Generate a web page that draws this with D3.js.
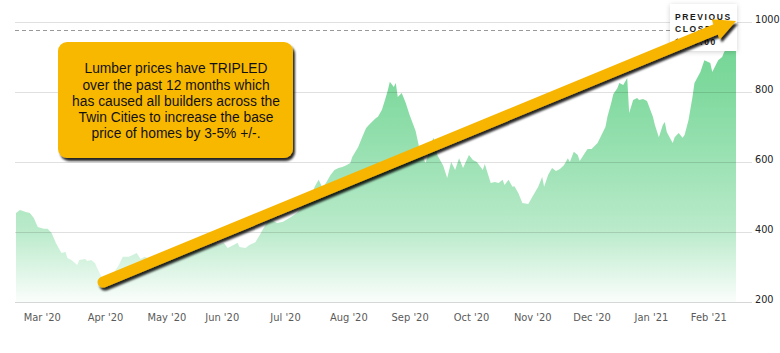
<!DOCTYPE html>
<html lang="en">
<head>
  <meta charset="UTF-8">
  <title>Lumber prices</title>
  <script src="https://d3js.org/d3.v7.min.js"></script>
  <style>
    body {
      margin: 0;
      background: #fff;
    }
    svg {
      display: block;
    }
    .axis text {
      font-family: "DejaVu Sans Condensed", "Liberation Sans Narrow", sans-serif;
    }
  </style>
</head>
<body>
<script>
  // lumber futures
  const dates = [
    "2020-02-18","2020-02-20","2020-02-23","2020-02-25","2020-02-27","2020-02-29","2020-03-03","2020-03-05",
    "2020-03-07","2020-03-09","2020-03-10","2020-03-12","2020-03-14","2020-03-15","2020-03-17","2020-03-20",
    "2020-03-21","2020-03-24","2020-03-25","2020-03-27","2020-03-29","2020-03-30","2020-04-01","2020-04-03",
    "2020-04-05","2020-04-07","2020-04-10","2020-04-12","2020-04-15","2020-04-17","2020-04-19","2020-04-21",
    "2020-04-23","2020-04-26","2020-04-28","2020-05-01","2020-05-03","2020-05-06","2020-05-08","2020-05-11",
    "2020-05-13","2020-05-16","2020-05-18","2020-05-21","2020-05-24","2020-05-26","2020-05-28","2020-05-30",
    "2020-06-02","2020-06-04","2020-06-07","2020-06-09","2020-06-10","2020-06-13","2020-06-15","2020-06-18",
    "2020-06-20","2020-06-22","2020-06-24","2020-06-26","2020-06-29","2020-07-02","2020-07-06","2020-07-09",
    "2020-07-12","2020-07-15","2020-07-17","2020-07-18","2020-07-20","2020-07-22","2020-07-24","2020-07-26",
    "2020-07-28","2020-07-30","2020-08-01","2020-08-03","2020-08-05","2020-08-06","2020-08-09","2020-08-11",
    "2020-08-13","2020-08-15","2020-08-18","2020-08-19","2020-08-21","2020-08-23","2020-08-24","2020-08-25",
    "2020-08-27","2020-08-28","2020-08-29","2020-08-31","2020-09-02","2020-09-04","2020-09-07","2020-09-09",
    "2020-09-12","2020-09-13","2020-09-16","2020-09-17","2020-09-18","2020-09-21","2020-09-23","2020-09-25",
    "2020-09-27","2020-09-29","2020-10-01","2020-10-04","2020-10-06","2020-10-08","2020-10-11","2020-10-12",
    "2020-10-15","2020-10-17","2020-10-19","2020-10-21","2020-10-22","2020-10-24","2020-10-26","2020-10-27",
    "2020-10-29","2020-10-31","2020-11-03","2020-11-05","2020-11-08","2020-11-10","2020-11-11","2020-11-13",
    "2020-11-15","2020-11-17","2020-11-19","2020-11-21","2020-11-23","2020-11-24","2020-11-26","2020-11-28",
    "2020-11-29","2020-12-02","2020-12-03","2020-12-05","2020-12-08","2020-12-10","2020-12-12","2020-12-13",
    "2020-12-15","2020-12-16","2020-12-18","2020-12-19","2020-12-21","2020-12-23","2020-12-24","2020-12-26",
    "2020-12-28","2020-12-29","2020-12-31","2021-01-02","2021-01-05","2021-01-06","2021-01-08","2021-01-10",
    "2021-01-11","2021-01-12","2021-01-15","2021-01-16","2021-01-18","2021-01-20","2021-01-21","2021-01-23",
    "2021-01-25","2021-01-26","2021-01-29","2021-01-31","2021-02-03","2021-02-04","2021-02-07","2021-02-09",
    "2021-02-10","2021-02-13","2021-02-16"
  ];
  const prices = [
    454,463,457,454,440,414,409,409,
    397,371,360,340,343,326,320,306,
    320,323,317,320,311,297,274,254,
    260,280,306,329,329,334,340,323,
    329,323,334,329,340,343,354,363,
    357,349,351,357,351,360,369,363,
    369,354,363,369,357,354,363,371,
    389,409,429,434,426,429,443,454,
    474,497,514,529,549,526,543,563,
    577,583,586,591,597,614,643,671,
    697,709,726,729,749,786,806,829,
    814,826,786,797,769,734,689,637,
    597,614,669,654,620,589,554,600,
    577,611,583,620,606,600,577,594,
    540,543,540,549,534,549,529,531,
    511,483,480,500,529,557,529,563,
    583,574,580,591,611,600,629,620,
    603,629,637,637,654,677,700,729,
    771,794,811,826,820,840,740,777,
    783,777,780,774,729,706,671,706,
    714,686,654,671,683,669,677,720,
    786,826,857,891,883,857,891,900,
    914,934,960
  ];

  const tickDates = ["2020-03-02","2020-04-03","2020-05-04","2020-06-01","2020-07-03","2020-08-04",
                     "2020-09-04","2020-10-05","2020-11-05","2020-12-05","2021-01-04","2021-02-02"];
  const tickLabels = ["Mar '20","Apr '20","May '20","Jun '20","Jul '20","Aug '20",
                      "Sep '20","Oct '20","Nov '20","Dec '20","Jan '21","Feb '21"];
  const yTicks = [200, 400, 600, 800, 1000];
  const previousClose = 977;

  const arrowFrom = ["2020-04-02", 257];
  const arrowTo = ["2021-02-16", 1003];

  const noteLines = [
    "Lumber prices have TRIPLED",
    "over the past 12 months which",
    "has caused all builders across the",
    "Twin Cities to increase the base",
    "price of homes by 3-5% +/-."
  ];

  const width = 780;
  const height = 353;
  const parse = d3.utcParse("%Y-%m-%d");
  const data = dates.map((d, i) => ({ date: parse(d), price: prices[i] }));

  const svg = d3.select("body").append("svg")
    .attr("width", width)
    .attr("height", height);

  const x = d3.scaleUtc()
    .domain([parse("2020-02-18"), parse("2021-02-16")])
    .range([16, 736]);
  const y = d3.scaleLinear()
    .domain([200, 1000])
    .range([302, 22]);

  const defs = svg.append("defs");
  const grad = defs.append("linearGradient")
    .attr("id", "fillGrad")
    .attr("gradientUnits", "userSpaceOnUse")
    .attr("x1", 0).attr("x2", 0)
    .attr("y1", y(1000)).attr("y2", y(200));
  [[0, 1], [0.25, 0.87], [0.5, 0.68], [0.75, 0.47], [1, 0.03]].forEach(([o, a]) => {
    grad.append("stop")
      .attr("offset", o)
      .attr("stop-color", "rgb(110,212,145)")
      .attr("stop-opacity", a);
  });

  const shadow = defs.append("filter").attr("id", "shadow")
    .attr("x", "-10%").attr("y", "-10%").attr("width", "130%").attr("height", "140%");
  shadow.append("feDropShadow")
    .attr("dx", 2).attr("dy", 3).attr("stdDeviation", 1.2)
    .attr("flood-color", "#000").attr("flood-opacity", 0.85);

  const boxShadow = defs.append("filter").attr("id", "boxShadow")
    .attr("x", "-20%").attr("y", "-20%").attr("width", "150%").attr("height", "150%");
  boxShadow.append("feDropShadow")
    .attr("dx", 0).attr("dy", 1).attr("stdDeviation", 2.5)
    .attr("flood-color", "#000").attr("flood-opacity", 0.18);

  // area
  const area = d3.area()
    .x(d => x(d.date))
    .y0(y(200))
    .y1(d => y(d.price));

  svg.append("path")
    .datum(data)
    .attr("d", area)
    .attr("fill", "url(#fillGrad)");

  // gridlines over the area
  svg.append("g")
    .selectAll("line")
    .data(yTicks)
    .join("line")
    .attr("x1", 15)
    .attr("x2", 752)
    .attr("y1", d => y(d) + 0.5)
    .attr("y2", d => y(d) + 0.5)
    .attr("stroke", "#000")
    .attr("stroke-opacity", d => d === 200 ? 0.16 : 0.12);

  // previous close dashed line
  svg.append("line")
    .attr("x1", 15)
    .attr("x2", 670)
    .attr("y1", Math.round(y(previousClose)) + 0.5)
    .attr("y2", Math.round(y(previousClose)) + 0.5)
    .attr("stroke", "#999")
    .attr("stroke-dasharray", "4,3");

  // axes
  const xAxis = svg.append("g")
    .attr("class", "axis")
    .attr("transform", `translate(0,${y(200)})`)
    .call(d3.axisBottom(x)
      .tickValues(tickDates.map(parse))
      .tickFormat((d, i) => tickLabels[i])
      .tickSize(0)
      .tickPadding(11));
  xAxis.select(".domain").remove();
  xAxis.selectAll("text")
    .attr("font-size", 11)
    .attr("fill", "#5a5a5a");

  const yAxis = svg.append("g")
    .attr("class", "axis")
    .attr("transform", "translate(754,0)")
    .call(d3.axisRight(y)
      .tickValues(yTicks)
      .tickFormat(d3.format("d"))
      .tickSize(0)
      .tickPadding(1));
  yAxis.select(".domain").remove();
  yAxis.selectAll("text")
    .attr("dy", 0)
    .attr("font-size", 10.8)
    .attr("fill", "#222");

  // previous close tooltip
  const tip = svg.append("g");
  tip.append("rect")
    .attr("x", 670).attr("y", 4)
    .attr("width", 67).attr("height", 47)
    .attr("fill", "#fff")
    .attr("filter", "url(#boxShadow)");
  tip.selectAll("text")
    .data(["PREVIOUS", "CLOSE", "$" + previousClose.toFixed(2)])
    .join("text")
    .attr("x", 675)
    .attr("y", (d, i) => 19.5 + i * 12.5)
    .attr("font-family", "Liberation Sans, Arial, sans-serif")
    .attr("font-weight", "bold")
    .attr("font-size", 8.5)
    .attr("letter-spacing", 1.6)
    .attr("fill", "#1a1a1a")
    .text(d => d);

  // arrow
  const x0 = x(parse(arrowFrom[0])), y0 = y(arrowFrom[1]);
  const x1 = x(parse(arrowTo[0])), y1 = y(arrowTo[1]);
  const len = Math.hypot(x1 - x0, y1 - y0);
  const ux = (x1 - x0) / len, uy = (y1 - y0) / len;
  const headLen = 22, headHalf = 11;
  const bx = x1 - ux * headLen, by = y1 - uy * headLen;

  const arrow = svg.append("g").attr("filter", "url(#shadow)");
  arrow.append("line")
    .attr("x1", x0).attr("y1", y0)
    .attr("x2", bx + ux * 2).attr("y2", by + uy * 2)
    .attr("stroke", "#f7b500")
    .attr("stroke-width", 11)
    .attr("stroke-linecap", "round");
  arrow.append("path")
    .attr("d", `M${x1},${y1}L${bx - uy * headHalf},${by + ux * headHalf}L${bx + uy * headHalf},${by - ux * headHalf}Z`)
    .attr("fill", "#f7b500");

  // callout box
  const note = svg.append("g");
  note.append("rect")
    .attr("x", 58).attr("y", 42)
    .attr("width", 235).attr("height", 116)
    .attr("rx", 9)
    .attr("fill", "#f9b800")
    .attr("filter", "url(#shadow)");
  note.selectAll("text")
    .data(noteLines)
    .join("text")
    .attr("x", 176)
    .attr("y", (d, i) => 73.2 + i * 16.3)
    .attr("text-anchor", "middle")
    .attr("font-family", "Liberation Sans, Arial, sans-serif")
    .attr("font-size", 13.8)
    .attr("fill", "#111")
    .text(d => d);
</script>
</body>
</html>
